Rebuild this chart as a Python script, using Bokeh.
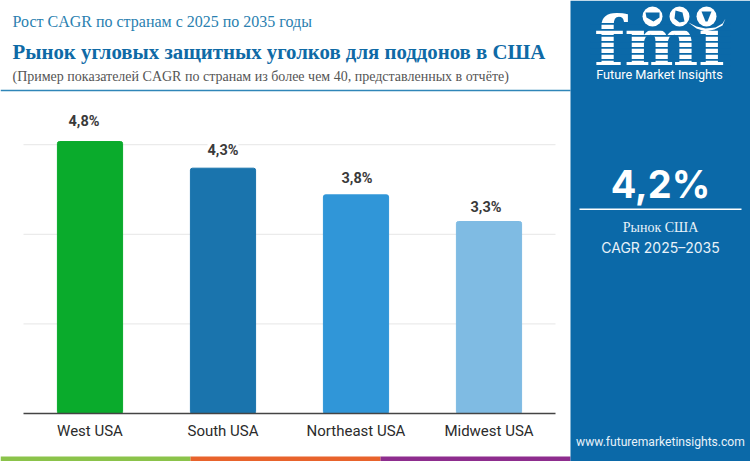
from bokeh.embed import file_html
from bokeh.resources import INLINE
from bokeh.plotting import figure
from bokeh.core.properties import value
from bokeh.models import (BoxAnnotation, ColumnDataSource, FixedTicker, Label,
                          LabelSet, PolyAnnotation, Range1d)

categories = ["West USA", "South USA", "Northeast USA", "Midwest USA"]
cagr_values = [4.8, 4.3, 3.8, 3.3]
value_labels = ["4,8%", "4,3%", "3,8%", "3,3%"]
bar_colors = ["#0aab2c", "#1a74ad", "#3096d8", "#7fbbe3"]
axis_floor = -0.3
grid_ticks = [1.38, 3.06, 4.74]

kicker = "Рост CAGR по странам с 2025 по 2035 годы"
title = "Рынок угловых защитных уголков для поддонов в США"
note = "(Пример показателей CAGR по странам из более чем 40, представленных в отчёте)"
big_value = "4,2%"
big_caption = ["Рынок США", "CAGR 2025–2035"]
brand = "Future Market Insights"
site = "www.futuremarketinsights.com"

BLUE = "#0b69a8"
SERIF = "Liberation Serif"
W, H = 750, 461
PLOT_LEFT, PLOT_BASE = 23, 413   # canvas position of x=0 and of the axis floor
PX_X, PX_Y = 133, 53.33          # pixels per unit

p = figure(width=W, height=H, output_backend="svg", toolbar_location=None,
           x_range=Range1d(-PLOT_LEFT / PX_X, (W - PLOT_LEFT) / PX_X),
           y_range=Range1d(axis_floor - (H - PLOT_BASE) / PX_Y, axis_floor + PLOT_BASE / PX_Y),
           min_border=0, background_fill_color="white", border_fill_color="white")
p.outline_line_color = None
p.grid.visible = False
p.yaxis.visible = False

slots = [i + 0.5 for i in range(len(categories))]
ax = p.xaxis[0]
ax.fixed_location = axis_floor
ax.bounds = (0, len(categories))
ax.ticker = FixedTicker(ticks=slots)
ax.major_label_overrides = dict(zip(slots, categories))
ax.axis_line_color = "#444444"
ax.axis_line_width = 1.6
ax.major_tick_line_color = None
ax.minor_tick_line_color = None
ax.major_label_text_font = "Roboto"
ax.major_label_text_font_size = "15px"
ax.major_label_text_color = "#2b2b2b"
ax.major_label_standoff = 2

p.segment(x0=[0] * len(grid_ticks), x1=[len(categories)] * len(grid_ticks),
          y0=grid_ticks, y1=grid_ticks, line_color="#e6e6e6", line_width=1)

src = ColumnDataSource(dict(x=slots, val=cagr_values, lab=value_labels, col=bar_colors,
                            base=[axis_floor] * len(categories),
                            dx=[-6, 0, 1, -3], dy=[12, 9, 8, 6]))
p.vbar(x="x", top="val", bottom="base", width=0.49, color="col", source=src,
       border_radius=2)
p.add_layout(LabelSet(x="x", y="val", text="lab", source=src, x_offset="dx", y_offset="dy",
                      text_align="center", text_baseline="bottom", text_font=value("Roboto"),
                      text_font_style="bold", text_font_size="14.5px", text_color="#3a3a3a",
                      background_fill_color="white"))


def box(l, r, t, b, color, radius=0):
    p.add_layout(BoxAnnotation(left=l, right=r, top=H - t, bottom=H - b,
                               left_units="screen", right_units="screen",
                               top_units="screen", bottom_units="screen",
                               fill_color=color, fill_alpha=1, line_color=None,
                               border_radius=radius))


def text(x, y, s, font, size, color, style="normal", align="left"):
    p.add_layout(Label(x=x, y=H - y, x_units="screen", y_units="screen", text=s,
                       text_font=font, text_font_size=size, text_color=color,
                       text_font_style=style, text_align=align, text_baseline="middle"))


def poly(xs, ys, color):
    p.add_layout(PolyAnnotation(xs=list(xs), ys=[H - y for y in ys],
                                xs_units="screen", ys_units="screen",
                                fill_color=color, fill_alpha=1, line_color=None))


# header
text(12, 21, kicker, SERIF, "16px", "#2a7fb0")
text(12, 51, title, SERIF, "20.8px", "#0f6aa6", "bold")
text(12, 76, note, SERIF, "14px", "#555555")
box(0, 570, 89.3, 90.8, "#2f86b8")

# bottom strip
box(0, 190, 456, 461, "#8bc34a")
box(190, 380, 456, 461, "#e8632c")
box(380, 570, 456, 461, "#8e2d8e")

# sidebar
box(570, 750, 0, 461, BLUE)
text(660, 183, big_value, "Inter", "38px", "white", "bold", "center")
box(579, 741, 208, 209.4, "white")
text(660, 227, big_caption[0], SERIF, "14px", "#e8f2f9", "normal", "center")
text(660, 247, big_caption[1], "Inter", "14px", "#e8f2f9", "normal", "center")
text(660, 441, site, "Roboto", "12.1px", "#e8f2f9", "normal", "center")

# logo
text(659, 41, "fmı", "DejaVu Serif", "70px", "white", "bold", "center")
for y in range(19, 66, 6):
    box(590, 730, y + 3.6, y + 5.2, BLUE)
for cx in (652, 679, 706):
    box(cx - 10, cx + 10, 6, 26, "white", 10)
poly([645, 659, 659, 653, 646], [12, 12, 17, 21, 17], BLUE)
poly([675, 682, 684, 679, 674], [10, 12, 21, 22, 18], BLUE)
poly([701, 711, 707, 705], [11, 11, 21, 21], BLUE)
poly([688, 696, 705, 715, 722, 725, 722, 714, 705, 696],
     [22, 26, 28, 27, 23, 18, 25, 29, 31, 28], "white")
text(659, 74, brand, "Roboto", "12.7px", "white", "normal", "center")

open("out.html", "w").write(file_html(p, INLINE))
